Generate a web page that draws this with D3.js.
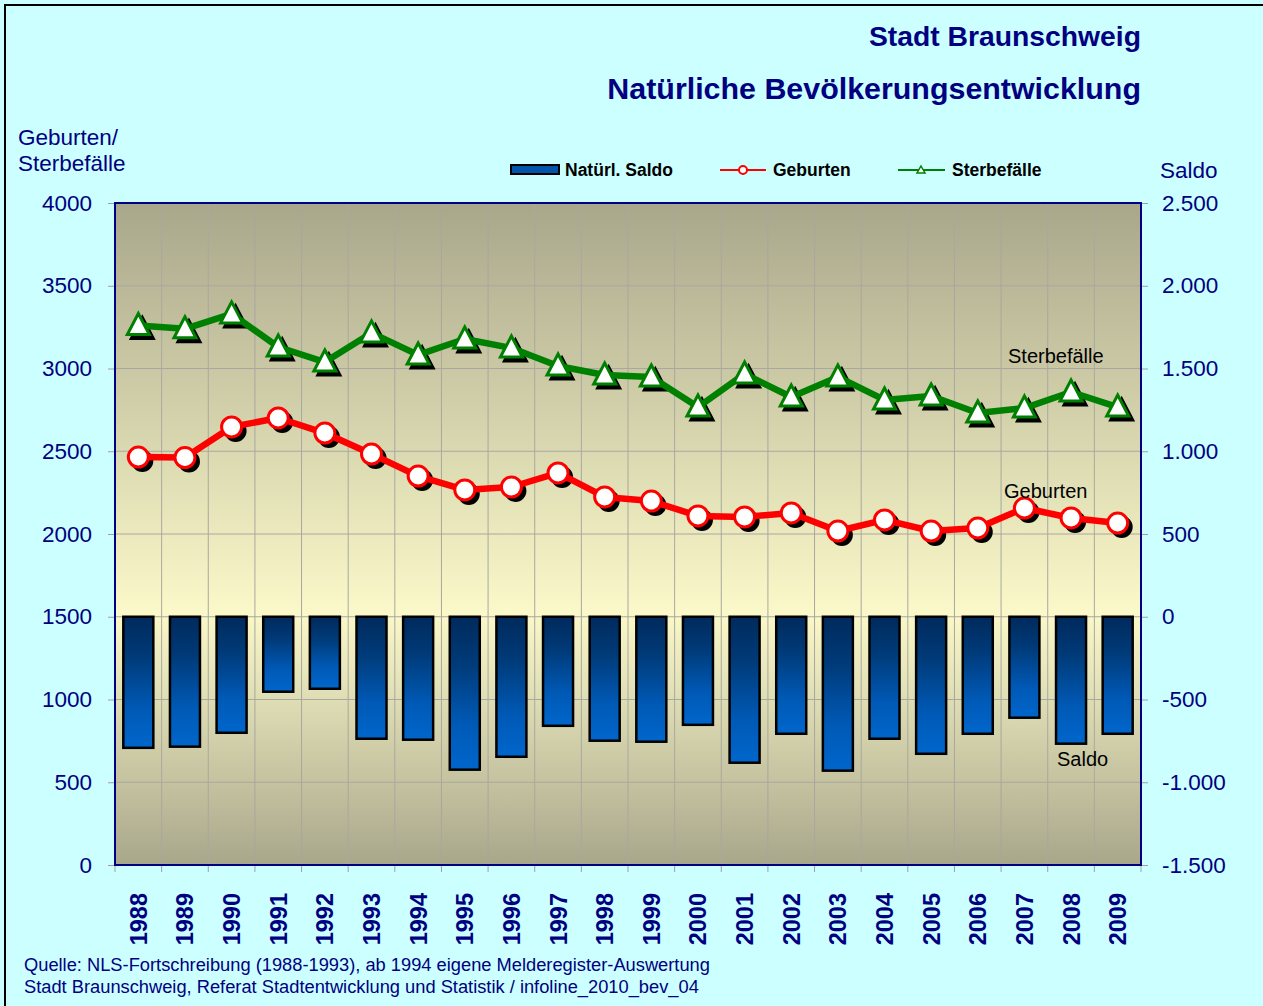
<!DOCTYPE html>
<html>
<head>
<meta charset="utf-8">
<script src="https://cdn.jsdelivr.net/npm/d3@7/dist/d3.min.js"></script>
<style>
  body { margin: 0; background: #ccffff; }
  svg { display: block; font-family: Arial, "Liberation Sans", sans-serif; }
</style>
</head>
<body>
<script>
// data
var years = ["1988","1989","1990","1991","1992","1993","1994","1995","1996","1997","1998",
             "1999","2000","2001","2002","2003","2004","2005","2006","2007","2008","2009"];
var geburten = [2465, 2462, 2647, 2701, 2610, 2483, 2350, 2266, 2284, 2369, 2224,
                2199, 2109, 2103, 2127, 2018, 2085, 2018, 2036, 2157, 2097, 2066];
var sterbefaelle = [3260, 3240, 3330, 3130, 3039, 3215, 3082, 3178, 3124, 3015, 2961,
                    2949, 2767, 2967, 2828, 2949, 2810, 2834, 2731, 2761, 2858, 2767];
var saldo = [-792, -785, -701, -453, -435, -737, -743, -924, -846, -659, -749,
             -755, -653, -882, -707, -930, -737, -828, -707, -610, -767, -707];
var leftTicks = [0, 500, 1000, 1500, 2000, 2500, 3000, 3500, 4000];
var rightTicks = [-1500, -1000, -500, 0, 500, 1000, 1500, 2000, 2500];

var width = 1263, height = 1006;
var plot = {left: 115, right: 1141, top: 203, bottom: 865};
var navy = "#000080";

var svg = d3.select("body").append("svg")
    .attr("width", width)
    .attr("height", height);

var defs = svg.append("defs");
var bg = defs.append("linearGradient").attr("id", "bg")
    .attr("x1", 0).attr("y1", 0).attr("x2", 0).attr("y2", 1);
bg.append("stop").attr("offset", "0%").attr("stop-color", "#a9a78b");
bg.append("stop").attr("offset", "62%").attr("stop-color", "#fbf9c9");
bg.append("stop").attr("offset", "100%").attr("stop-color", "#a9a78b");

var barGrad = defs.append("linearGradient").attr("id", "bar")
    .attr("x1", 0).attr("y1", 0).attr("x2", 0).attr("y2", 1);
barGrad.append("stop").attr("offset", "0%").attr("stop-color", "#002a5c");
barGrad.append("stop").attr("offset", "30%").attr("stop-color", "#003a78");
barGrad.append("stop").attr("offset", "70%").attr("stop-color", "#0059b5");
barGrad.append("stop").attr("offset", "100%").attr("stop-color", "#0066cc");

// page frame (top + left)
svg.append("path").attr("d", "M5," + height + "V5H" + width)
    .attr("fill", "none").attr("stroke", "#000").attr("stroke-width", 2);

var x = d3.scaleBand().domain(years).range([plot.left, plot.right]);
var yL = d3.scaleLinear().domain([0, 4000]).range([plot.bottom, plot.top]);
var yR = d3.scaleLinear().domain([-1500, 2500]).range([plot.bottom, plot.top]);

svg.append("rect")
    .attr("x", plot.left).attr("y", plot.top)
    .attr("width", plot.right - plot.left).attr("height", plot.bottom - plot.top)
    .attr("fill", "url(#bg)");

// grid
svg.append("g").selectAll("line").data(years.slice(1)).enter().append("line")
    .attr("x1", function (d) { return x(d); }).attr("x2", function (d) { return x(d); })
    .attr("y1", plot.top).attr("y2", plot.bottom)
    .attr("stroke", "#a8a8a0").attr("stroke-width", 1);
svg.append("g").selectAll("line").data(leftTicks.slice(1, -1)).enter().append("line")
    .attr("x1", plot.left).attr("x2", plot.right)
    .attr("y1", function (d) { return yL(d); }).attr("y2", function (d) { return yL(d); })
    .attr("stroke", "#a8a8a0").attr("stroke-width", 1);

// axes
var axL = svg.append("g").attr("transform", "translate(" + plot.left + ",0)")
    .call(d3.axisLeft(yL).tickValues(leftTicks).tickSize(7).tickPadding(16).tickFormat(d3.format("d")));
var axR = svg.append("g").attr("transform", "translate(" + plot.right + ",0)")
    .call(d3.axisRight(yR).tickValues(rightTicks).tickSize(7).tickPadding(14)
        .tickFormat(function (d) { return d3.format(",")(d).replace(/,/g, ".").replace("\u2212", "-"); }));
var axB = svg.append("g").attr("transform", "translate(0," + plot.bottom + ")")
    .call(d3.axisBottom(x).tickSize(0).tickPadding(0));
[axL, axR, axB].forEach(function (a) {
    a.select(".domain").remove();
    a.selectAll("line").attr("stroke", "#a0a0a0");
    a.selectAll("text").attr("fill", navy).style("font-size", "22.5px")
        .style("font-family", "Arial, 'Liberation Sans', sans-serif");
});
axB.selectAll("text")
    .attr("transform", function (d) { return "rotate(-90)"; })
    .attr("x", -28).attr("y", 0).attr("dy", "0.36em")
    .attr("text-anchor", "end")
    .style("font-weight", "bold").style("font-size", "23.5px");
// bottom boundary ticks
svg.append("g").selectAll("line").data(years.concat(["end"])).enter().append("line")
    .attr("x1", function (d) { return d === "end" ? plot.right : x(d); })
    .attr("x2", function (d) { return d === "end" ? plot.right : x(d); })
    .attr("y1", plot.bottom).attr("y2", plot.bottom + 7)
    .attr("stroke", "#a0a0a0");

// bars
var bw = 30;
svg.append("g").selectAll("rect").data(saldo).enter().append("rect")
    .attr("x", function (d, i) { return x(years[i]) + x.bandwidth() / 2 - bw / 2; })
    .attr("y", yR(0))
    .attr("width", bw)
    .attr("height", function (d) { return yR(d) - yR(0); })
    .attr("fill", "url(#bar)")
    .attr("stroke", "#000").attr("stroke-width", 2.5);

// plot border
svg.append("rect")
    .attr("x", plot.left).attr("y", plot.top)
    .attr("width", plot.right - plot.left).attr("height", plot.bottom - plot.top)
    .attr("fill", "none").attr("stroke", navy).attr("stroke-width", 2);

var cx = function (d, i) { return x(years[i]) + x.bandwidth() / 2; };
var triPath = "M0,-12L11,9L-11,9Z";

function drawSeries(values, color, marker) {
    var line = d3.line().x(cx).y(function (d) { return yL(d); });
    var g = svg.append("g");
    // shadow of markers
    if (marker === "circle") {
        g.selectAll(".sh").data(values).enter().append("circle")
            .attr("cx", function (d, i) { return cx(d, i) + 4; })
            .attr("cy", function (d) { return yL(d) + 4; })
            .attr("r", 11).attr("fill", "#000");
    } else {
        g.selectAll(".sh").data(values).enter().append("path")
            .attr("d", triPath)
            .attr("transform", function (d, i) { return "translate(" + (cx(d, i) + 4) + "," + (yL(d) + 4) + ")"; })
            .attr("fill", "#000").attr("stroke", "#000").attr("stroke-width", 3);
    }
    g.append("path").datum(values).attr("d", line)
        .attr("fill", "none").attr("stroke", color).attr("stroke-width", 6.5)
        .attr("stroke-linejoin", "round");
    if (marker === "circle") {
        g.selectAll(".m").data(values).enter().append("circle")
            .attr("cx", cx).attr("cy", function (d) { return yL(d); })
            .attr("r", 10).attr("fill", "#fff").attr("stroke", color).attr("stroke-width", 3);
    } else {
        g.selectAll(".m").data(values).enter().append("path")
            .attr("d", triPath)
            .attr("transform", function (d, i) { return "translate(" + cx(d, i) + "," + yL(d) + ")"; })
            .attr("fill", "#fff").attr("stroke", color).attr("stroke-width", 3);
    }
}
drawSeries(sterbefaelle, "#008000", "tri");
drawSeries(geburten, "#ff0000", "circle");

// in-plot labels
function label(t, px, py) {
    svg.append("text").attr("x", px).attr("y", py).text(t)
        .style("font-size", "20px").attr("fill", "#000");
}
label("Sterbefälle", 1008, 363);
label("Geburten", 1004, 498);
label("Saldo", 1057, 766);

// titles
svg.append("text").attr("x", 1141).attr("y", 46).attr("text-anchor", "end")
    .text("Stadt Braunschweig").attr("fill", navy)
    .style("font-size", "28.3px").style("font-weight", "bold");
svg.append("text").attr("x", 1141).attr("y", 99).attr("text-anchor", "end")
    .text("Natürliche Bevölkerungsentwicklung").attr("fill", navy)
    .style("font-size", "30.4px").style("font-weight", "bold");

// axis titles
svg.append("text").attr("x", 18).attr("y", 145).text("Geburten/").attr("fill", navy).style("font-size", "22.5px");
svg.append("text").attr("x", 18).attr("y", 171).text("Sterbefälle").attr("fill", navy).style("font-size", "22.5px");
svg.append("text").attr("x", 1160).attr("y", 178).text("Saldo").attr("fill", navy).style("font-size", "22.5px");

// legend
var lg = svg.append("g");
lg.append("rect").attr("x", 511).attr("y", 165).attr("width", 48).attr("height", 9)
    .attr("fill", "#0055aa").attr("stroke", "#000").attr("stroke-width", 2);
lg.append("text").attr("x", 565).attr("y", 176).text("Natürl. Saldo")
    .style("font-size", "17.5px").style("font-weight", "bold");
lg.append("line").attr("x1", 720).attr("x2", 766).attr("y1", 170).attr("y2", 170)
    .attr("stroke", "#ff0000").attr("stroke-width", 2);
lg.append("circle").attr("cx", 743).attr("cy", 170).attr("r", 4)
    .attr("fill", "#fff").attr("stroke", "#ff0000").attr("stroke-width", 2);
lg.append("text").attr("x", 773).attr("y", 176).text("Geburten")
    .style("font-size", "17.5px").style("font-weight", "bold");
lg.append("line").attr("x1", 898).attr("x2", 945).attr("y1", 170).attr("y2", 170)
    .attr("stroke", "#008000").attr("stroke-width", 2);
lg.append("path").attr("d", "M0,-4L4,3L-4,3Z").attr("transform", "translate(921,170)")
    .attr("fill", "#fff").attr("stroke", "#008000").attr("stroke-width", 1.5);
lg.append("text").attr("x", 952).attr("y", 176).text("Sterbefälle")
    .style("font-size", "17.5px").style("font-weight", "bold");

// source
svg.append("text").attr("x", 24).attr("y", 971)
    .text("Quelle: NLS-Fortschreibung (1988-1993), ab 1994 eigene Melderegister-Auswertung")
    .attr("fill", navy).style("font-size", "18.3px");
svg.append("text").attr("x", 24).attr("y", 993)
    .text("Stadt Braunschweig, Referat Stadtentwicklung und Statistik / infoline_2010_bev_04")
    .attr("fill", navy).style("font-size", "18.3px");
</script>
</body>
</html>
